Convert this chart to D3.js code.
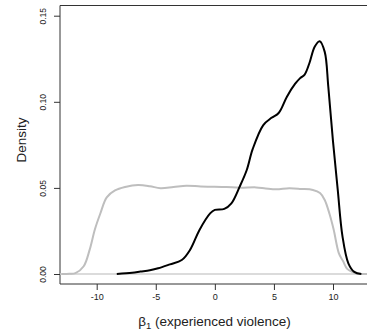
<!DOCTYPE html>
<html>
<head>
<meta charset="utf-8">
<script src="https://cdn.jsdelivr.net/npm/d3@7"></script>
<style>
  body { margin: 0; background: #fff; }
  svg { display: block; font-family: "Liberation Sans", Arial, sans-serif; }
</style>
</head>
<body>
<div id="chart"></div>
<script>
// posterior density of beta_1
const blackX = [-8.3, -7, -6.3, -5.5, -4.8, -3.8, -2.8, -2.1, -1.3, -0.4, 0, 0.8, 1.4, 2.1, 2.7, 3.2, 4.1, 4.8, 5.4, 6.1, 6.8, 7.2, 7.6, 8.0, 8.45, 8.87, 9.3, 9.6, 10.0, 10.4, 10.8, 11.3, 11.8, 12.4];
const blackY = [0, 0.0007, 0.0014, 0.0022, 0.0033, 0.0056, 0.0081, 0.014, 0.0256, 0.0352, 0.0372, 0.0378, 0.041, 0.0507, 0.0604, 0.0725, 0.0865, 0.0907, 0.0935, 0.103, 0.1105, 0.1136, 0.1158, 0.1224, 0.132, 0.1352, 0.129, 0.109, 0.077, 0.049, 0.022, 0.0062, 0.0012, 0];

// prior density (grey)
const greyX = [-13, -12.3, -11.8, -11.1, -10.6, -10.15, -9.7, -9.15, -8.45, -7.6, -6.5, -5.5, -4.6, -3.5, -2.4, -1.2, -0.2, 1, 2.1, 3.5, 4.3, 5.2, 6.3, 7.3, 8.3, 8.9, 9.3, 9.7, 10.05, 10.5, 10.85, 11.2, 11.7, 12.2, 13];
const greyY = [0, 0.0001, 0.0005, 0.0045, 0.014, 0.026, 0.035, 0.0445, 0.0485, 0.0505, 0.0517, 0.051, 0.0498, 0.0505, 0.0513, 0.0508, 0.0507, 0.0505, 0.0501, 0.0503, 0.0497, 0.0492, 0.0498, 0.0494, 0.0488, 0.047, 0.043, 0.035, 0.026, 0.012, 0.0075, 0.003, 0.001, 0.0001, 0];

const xTicks = [-10, -5, 0, 5, 10];
const yTicks = [0, 0.05, 0.10, 0.15];

const width = 367;
const height = 333;
const frame = { left: 60, right: 372, top: 5.5, bottom: 284 };

const svg = d3.select('#chart')
    .append('svg')
    .attr('width', width)
    .attr('height', height);

const x = d3.scaleLinear().domain([-10, 10]).range([96.7, 333]);
const y = d3.scaleLinear().domain([0, 0.15]).range([274, 15.7]);

// frame (right side falls outside the picture)
svg.append('path')
    .attr('d', `M${frame.right},${frame.top}H${frame.left}V${frame.bottom}H${frame.right}`)
    .attr('fill', 'none')
    .attr('stroke', '#333')
    .attr('stroke-width', 1);

// x axis
const xAxis = svg.append('g')
    .attr('transform', `translate(0,${frame.bottom})`)
    .call(d3.axisBottom(x).tickValues(xTicks).tickSize(6).tickPadding(4).tickFormat(d3.format('d')));
xAxis.select('.domain').remove();
xAxis.selectAll('line').attr('stroke', '#333');
xAxis.selectAll('text')
    .attr('font-size', 9)
    .attr('font-family', '"Liberation Sans", Arial, sans-serif')
    .attr('fill', '#222')
    .text(d => d < 0 ? '-' + Math.abs(d) : d);

// y axis
const yAxis = svg.append('g')
    .attr('transform', `translate(${frame.left},0)`)
    .call(d3.axisLeft(y).tickValues(yTicks).tickSize(6).tickFormat(d3.format('.2f')));
yAxis.select('.domain').remove();
yAxis.selectAll('line').attr('stroke', '#333');
yAxis.selectAll('text')
    .attr('font-size', 8.5)
    .attr('font-family', '"Liberation Sans", Arial, sans-serif')
    .attr('fill', '#222')
    .attr('text-anchor', 'middle')
    .attr('x', 0)
    .attr('transform', 'translate(-16.7,0) rotate(-90)')
    .attr('dy', '0.35em');

// zero line
svg.append('line')
    .attr('x1', frame.left)
    .attr('x2', frame.right)
    .attr('y1', y(0))
    .attr('y2', y(0))
    .attr('stroke', '#cfcfcf')
    .attr('stroke-width', 1.5);

const line = d3.line()
    .x(d => x(d[0]))
    .y(d => Math.min(y(d[1]), y(0)))
    .curve(d3.curveCatmullRom.alpha(0.5));

const plot = svg.append('g');

plot.append('path')
    .datum(d3.zip(greyX, greyY))
    .attr('d', line)
    .attr('fill', 'none')
    .attr('stroke', '#bebebe')
    .attr('stroke-width', 2);

plot.append('path')
    .datum(d3.zip(blackX, blackY))
    .attr('d', line)
    .attr('fill', 'none')
    .attr('stroke', '#000')
    .attr('stroke-width', 2);

// axis titles
svg.append('text')
    .attr('transform', 'translate(21,140) rotate(-90)')
    .attr('text-anchor', 'middle')
    .attr('dy', '0.35em')
    .attr('font-size', 13.5)
    .attr('fill', '#222')
    .text('Density');

const xlab = svg.append('text')
    .attr('x', 214.5)
    .attr('y', 326)
    .attr('text-anchor', 'middle')
    .attr('font-size', 13.5)
    .attr('fill', '#222');
xlab.append('tspan').text('β');
xlab.append('tspan').attr('font-size', 9.5).attr('dy', 3).text('1');
xlab.append('tspan').attr('dy', -3).text(' (experienced violence)');
</script>
</body>
</html>
